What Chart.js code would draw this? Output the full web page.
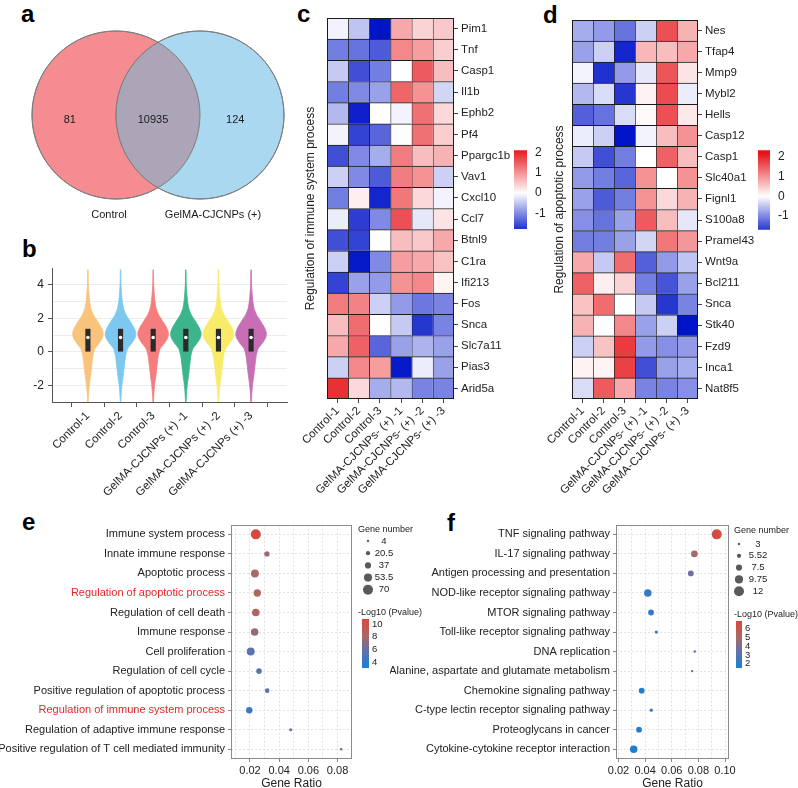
<!DOCTYPE html>
<html><head><meta charset="utf-8">
<script src="https://cdn.jsdelivr.net/npm/chart.js@4.4.1/dist/chart.umd.min.js"></script>
<style>
html,body{margin:0;padding:0;background:#fff;overflow:hidden;}
#wrap{position:relative;width:798px;height:788px;overflow:hidden;font-family:'Liberation Sans',Arial,Helvetica,sans-serif;}
canvas{position:absolute;}
.letter{position:absolute;font-weight:bold;font-size:24px;line-height:24px;color:#000;}
</style></head><body><div id="wrap"></div>
<script>
// ---------------- DATA ----------------
// a: Venn
const vennSets = ['Control', 'GelMA-CJCNPs (+)'];
const vennCounts = [81, 10935, 124]; // control only, shared, GelMA only

// b: violin
const violinSamples = ['Control-1','Control-2','Control-3','GelMA-CJCNPs (+) -1','GelMA-CJCNPs (+) -2','GelMA-CJCNPs (+) -3'];
const violinY =         [4.9, 4.0, 3.4, 3.0, 2.6, 2.2, 1.8, 1.4, 1.1, 0.8, 0.5, 0.2, -0.2, -0.8, -1.4, -1.9, -2.4, -3.0];
const violinHalfWidth = [0.006,0.015,0.035,0.055,0.09,0.17,0.30,0.42,0.47,0.44,0.34,0.22,0.16,0.12,0.085,0.05,0.025,0.006];
const boxLow =  [0, 0, 0, 0, 0, 0];
const boxHigh = [1.35, 1.35, 1.35, 1.35, 1.35, 1.35];
const medians = [0.85, 0.85, 0.85, 0.85, 0.85, 0.85];
const violinColors = ['#F8C47C','#7DC8F0','#F57D7D','#3CB48C','#F8EB68','#C86EB4'];

// c / d heatmaps
const heatSamples = ['Control-1','Control-2','Control-3','GelMA-CJCNPs- (+) -1','GelMA-CJCNPs- (+) -2','GelMA-CJCNPs- (+) -3'];
const genesC = ['Pim1','Tnf','Casp1','Il1b','Ephb2','Pf4','Ppargc1b','Vav1','Cxcl10','Ccl7','Btnl9','C1ra','Ifi213','Fos','Snca','Slc7a11','Pias3','Arid5a'];
const heatC = [
 [-0.1,-0.5,-2.0, 0.8, 0.4, 0.5],
 [-1.1,-1.2,-1.4, 1.1, 0.9, 0.45],
 [-0.45,-1.5,-1.1, 0.0, 1.5, 0.6],
 [-1.1,-1.0,-0.8, 1.4, 1.0,-0.35],
 [-0.6,-1.9, 0.0,-0.1, 1.3, 0.35],
 [-0.1,-1.6,-1.3, 0.03, 1.3, 0.45],
 [-1.5,-1.0,-0.7, 1.2, 0.6, 0.7],
 [-0.4,-1.0,-1.4, 1.2, 1.0,-0.4],
 [-1.1, 0.15,-1.85, 1.25, 0.35,-0.1],
 [-0.15,-1.65,-1.0, 1.6,-0.2, 0.25],
 [-1.5,-1.6, 0.0, 0.6, 0.5, 0.8],
 [-0.4,-1.95,-1.0, 0.9, 0.8, 0.55],
 [-1.6,-0.8,-0.85, 1.0, 1.1, 0.1],
 [1.2, 1.15,-0.4,-0.85,-1.15,-1.05],
 [0.6, 1.35, 0.0,-0.45,-1.7,-1.05],
 [0.8, 1.45,-1.3,-0.8,-0.65,-0.8],
 [-0.4, 1.1, 0.9,-1.95,-0.15,-0.8],
 [1.9, 0.35,-0.7,-0.6,-1.05,-1.05]
];
const genesD = ['Nes','Tfap4','Mmp9','Mybl2','Hells','Casp12','Casp1','Slc40a1','Fignl1','S100a8','Pramel43','Wnt9a','Bcl211','Snca','Stk40','Fzd9','Inca1','Nat8f5'];
const heatD = [
 [-0.7,-0.85,-1.2,-0.4, 1.6, 0.7],
 [-0.8,-0.4,-1.85, 0.65, 0.6, 0.8],
 [-0.1,-1.75,-0.85,-0.2, 1.55, 0.25],
 [-0.6,-0.3,-1.7, 0.12, 1.65,-0.15],
 [-1.35,-1.2,-0.3, 0.05, 1.6, 0.2],
 [-0.15,-0.4,-2.0,-0.1, 0.6, 1.0],
 [-0.45,-1.5,-1.1, 0.0, 1.45, 0.6],
 [-0.85,-1.1,-1.3, 1.0, 0.0, 1.0],
 [-0.8,-1.4,-1.1, 1.0, 0.35, 0.7],
 [-0.95,-1.2,-0.8, 1.5, 0.6,-0.2],
 [-1.1,-1.1,-0.8,-0.35, 1.25, 0.95],
 [0.8,-0.45, 1.35,-1.35,-0.85,-0.5],
 [1.45, 0.15, 0.4,-1.1,-1.45,-0.8],
 [0.55, 1.35, 0.0,-0.45,-1.7,-1.05],
 [0.7, 0.0, 1.1,-0.8,-0.4,-2.0],
 [-0.4, 0.55, 1.8,-0.85,-0.95,-0.85],
 [0.12, 0.1, 1.75,-1.5,-0.8,-0.7],
 [-0.3, 1.5, 0.8,-1.05,-1.05,-0.95]
];
const titleC = 'Regulation of immune system process';
const titleD = 'Regulation of apoptotic process';
const cbarRangeC = [-1.75, 2.1];
const cbarRangeD = [-1.7, 2.33];

// e: GO enrichment
const eTerms = ['Immune system process','Innate immune response','Apoptotic process','Regulation of apoptotic process','Regulation of cell death','Immune response','Cell proliferation','Regulation of cell cycle','Positive regulation of apoptotic process','Regulation of immune system process','Regulation of adaptive immune response','Positive regulation of T cell mediated immunity'];
const eRatio = [0.024, 0.0316, 0.0234, 0.025, 0.024, 0.0232, 0.0205, 0.0262, 0.0318, 0.0195, 0.0479, 0.0825];
const eCount = [70, 30, 52, 47, 49, 49, 52, 32, 23, 39, 10, 4];
const eLogP  = [10.6, 7.5, 8.0, 8.1, 8.2, 7.3, 5.6, 5.3, 5.5, 4.3, 6.0, 6.0];
const eHighlight = ['Regulation of apoptotic process','Regulation of immune system process'];
const eSizeLegend = [4, 20.5, 37, 53.5, 70];
const eSizeLabels = ['4','20.5','37','53.5','70'];
const eColorTicks = [10, 8, 6, 4];

// f: KEGG enrichment
const fTerms = ['TNF signaling pathway','IL-17 signaling pathway','Antigen processing and presentation','NOD-like receptor signaling pathway','MTOR signaling pathway','Toll-like receptor signaling pathway','DNA replication','Alanine, aspartate and glutamate metabolism','Chemokine signaling pathway','C-type lectin receptor signaling pathway','Proteoglycans in cancer','Cytokine-cytokine receptor interaction'];
const fRatio = [0.0938, 0.077, 0.0743, 0.042, 0.0444, 0.0484, 0.0773, 0.0753, 0.0374, 0.0446, 0.0354, 0.0314];
const fCount = [12, 8, 7, 9, 7, 4, 3, 3, 7, 4, 7, 9];
const fLogP  = [6.7, 4.8, 3.6, 2.2, 2.1, 2.2, 3.5, 3.5, 1.8, 2.4, 1.9, 1.7];
const fSizeLegend = [3, 5.25, 7.5, 9.75, 12];
const fSizeLabels = ['3','5.52','7.5','9.75','12'];
const fColorTicks = [6, 5, 4, 3, 2];

// ---------------- SETUP ----------------
const FONT = "'Liberation Sans', Arial, Helvetica, sans-serif";
Chart.defaults.font.family = FONT;
Chart.defaults.font.size = 12;
Chart.defaults.color = '#222';
Chart.defaults.animation = false;
Chart.defaults.events = [];
Chart.defaults.layout.autoPadding = false;
Chart.defaults.plugins.legend.display = false;
Chart.defaults.plugins.tooltip.enabled = false;

const wrap = document.getElementById('wrap');
function mk(l, t, w, h) {
  const c = document.createElement('canvas');
  c.width = w; c.height = h;
  Object.assign(c.style, {left: l + 'px', top: t + 'px', width: w + 'px', height: h + 'px'});
  wrap.appendChild(c); return c;
}
function mixArr(c1, c2, t) { t = Math.max(0, Math.min(1, t)); return c1.map((v, k) => Math.round(v + (c2[k] - v) * t)); }
function rgb(a) { return 'rgb(' + a.join(',') + ')'; }
function mix(c1, c2, t) { return rgb(mixArr(c1, c2, t)); }
const WHITE = [255,255,255], HEAT_RED = [230,15,20], HEAT_BLUE = [0,20,200];
function heatColor(v) { return v >= 0 ? mix(WHITE, HEAT_RED, v / 2.2) : mix(WHITE, HEAT_BLUE, -v / 2); }
// blue -> grey-purple -> brown -> red ramp for enrichment dots
const DOT_STOPS = [[0, [22,128,214]], [0.38, [105,112,165]], [0.64, [170,105,100]], [1, [216,72,62]]];
function dotRamp(t) {
  t = Math.max(0, Math.min(1, t));
  for (let k = 1; k < DOT_STOPS.length; k++) {
    const [t0, c0] = DOT_STOPS[k - 1], [t1, c1] = DOT_STOPS[k];
    if (t <= t1) return mix(c0, c1, (t - t0) / (t1 - t0));
  }
  return rgb(DOT_STOPS[DOT_STOPS.length - 1][1]);
}

function frame(color) {
  return { id: 'frame', afterDraw(chart) {
    const a = chart.chartArea, ctx = chart.ctx;
    ctx.save(); ctx.strokeStyle = color; ctx.lineWidth = 1;
    ctx.strokeRect(Math.round(a.left) + 0.5, Math.round(a.top) + 0.5, Math.round(a.right - a.left) - 1, Math.round(a.bottom - a.top) - 1);
    ctx.restore();
  }};
}

// letters
[['a',21,2],['b',22,237],['c',297,2],['d',543,3],['e',22,510],['f',447,511]].forEach(([s,l,t]) => {
  const d = document.createElement('div'); d.className = 'letter'; d.textContent = s;
  d.style.left = l + 'px'; d.style.top = t + 'px'; wrap.appendChild(d);
});

// ---------------- a: Venn ----------------
const vennOverlapColor = '#ACA5B7';
const vennPlugin = { id: 'venn', afterDatasetsDraw(chart) {
  const [a, b] = chart.getDatasetMeta(0).data;
  const ra = a.options.radius, rb = b.options.radius, ctx = chart.ctx;
  ctx.save(); ctx.beginPath(); ctx.arc(a.x, a.y, ra, 0, Math.PI * 2); ctx.clip();
  ctx.beginPath(); ctx.arc(b.x, b.y, rb, 0, Math.PI * 2); ctx.fillStyle = vennOverlapColor; ctx.fill(); ctx.restore();
  ctx.save(); ctx.strokeStyle = '#7d7d7d'; ctx.lineWidth = 1;
  [[a, ra], [b, rb]].forEach(([e, r]) => { ctx.beginPath(); ctx.arc(e.x, e.y, r, 0, Math.PI * 2); ctx.stroke(); });
  ctx.fillStyle = '#1a1a1a'; ctx.font = '11px ' + FONT; ctx.textAlign = 'center'; ctx.textBaseline = 'middle';
  ctx.fillText(String(vennCounts[0]), a.x - 0.55 * ra, a.y + 5);
  ctx.fillText(String(vennCounts[1]), (a.x + b.x) / 2 - 5, a.y + 5);
  ctx.fillText(String(vennCounts[2]), b.x + 0.42 * rb, a.y + 5);
  ctx.fillText(vennSets[0], a.x - 7, a.y + 100);
  ctx.fillText(vennSets[1], b.x + 13, a.y + 100);
  ctx.restore();
}};
new Chart(mk(0, 25, 300, 205), {
  type: 'bubble',
  data: { datasets: [{ data: vennSets.map((s, i) => ({x: i, y: 0, r: 84})), clip: false,
    backgroundColor: ['#F48C91', '#AAD8F1'], borderColor: '#7d7d7d', borderWidth: 1 }] },
  options: { responsive: false, layout: {padding: 0, autoPadding: false},
    scales: { x: {display: false, min: -116 / 84, max: (300 - 116) / 84}, y: {display: false, min: -(205 - 90) / 90, max: 1} } },
  plugins: [vennPlugin]
});

// ---------------- b: Violin ----------------
const violinSets = violinSamples.map((s, i) => ({
  type: 'scatter', label: s, order: 3,
  data: violinY.map((y, k) => ({x: i + violinHalfWidth[k], y}))
        .concat(violinY.map((y, k) => ({x: i - violinHalfWidth[k], y})).reverse()),
  showLine: true, fill: 'shape', backgroundColor: violinColors[i], borderColor: violinColors[i],
  borderWidth: 0.8, pointRadius: 0, tension: 0.2
}));
new Chart(mk(0, 255, 300, 250), {
  type: 'scatter',
  data: { datasets: [
    { type: 'scatter', order: 1, data: medians.map((m, i) => ({x: i, y: m})), pointRadius: 1.8, pointBackgroundColor: '#fff', pointBorderWidth: 0 },
    { type: 'bar', order: 2, data: violinSamples.map((s, i) => ({x: i, y: [boxLow[i], boxHigh[i]]})), backgroundColor: '#2a2a2a', barThickness: 4.5 },
    ...violinSets
  ]},
  options: { responsive: false, layout: {padding: {left: 0, right: 13, top: 13, bottom: 0}},
    scales: {
      x: { type: 'linear', min: -0.5, max: 5.5,
        afterBuildTicks: s => { s.ticks = violinSamples.map((_, i) => ({value: i})); },
        afterFit: s => { s.height = 103; },
        ticks: { callback: (v, i) => violinSamples[i], maxRotation: 45, minRotation: 45, autoSkip: false, font: {size: 11.5}, padding: 2 },
        grid: { drawOnChartArea: false, tickLength: 5, color: '#555' },
        border: { color: '#555' } },
      y: { min: -3, max: 5, afterFit: s => { s.width = 52; },
        ticks: { stepSize: 1, autoSkip: false, callback: v => (Math.round(v) % 2 === 0 ? String(v) : ''), font: {size: 12}, padding: 4 },
        grid: { color: c => (c.tick && c.tick.value > -3 && c.tick.value < 5) ? '#ececec' : 'rgba(0,0,0,0)',
                tickColor: c => (c.tick && Math.round(c.tick.value) % 2 === 0) ? '#555' : 'rgba(0,0,0,0)', tickLength: 4 },
        border: { color: '#555' } }
    } }
});

// ---------------- c / d: Heatmaps ----------------
function heatmap(canvas, genes, values, title, g) {
  const datasets = heatSamples.map((s, j) => ({
    label: s,
    data: genes.map(() => [j, j + 1]),
    backgroundColor: genes.map((gn, i) => heatColor(values[i][j])),
    borderColor: '#1b1b1b', borderWidth: {top: 1, left: 1, right: 0, bottom: 0}, borderSkipped: false,
    barPercentage: 1, categoryPercentage: 1, grouped: false
  }));
  new Chart(canvas, {
    type: 'bar', data: { labels: genes, datasets },
    options: { indexAxis: 'y', responsive: false,
      layout: { padding: {left: g.padL, top: g.padT, right: 0, bottom: 0} },
      scales: {
        x: { type: 'linear', min: 0, max: heatSamples.length, position: 'bottom',
          afterBuildTicks: s => { s.ticks = heatSamples.map((_, i) => ({value: i + 0.5})); },
          afterFit: s => { s.height = g.xH; },
          ticks: { callback: (v, i) => heatSamples[i], autoSkip: false, maxRotation: 45, minRotation: 45, font: {size: 11.5}, padding: 1 },
          grid: { drawOnChartArea: false, tickLength: 4, color: '#444' }, border: {display: false} },
        y: { type: 'category', position: 'right', offset: true,
          afterFit: s => { s.width = g.yW; },
          grid: { offset: false, drawOnChartArea: false, tickLength: 4, color: '#444' }, border: {display: false},
          ticks: { font: {size: 11.5}, padding: 3, autoSkip: false } },
        yt: { type: 'category', labels: genes, position: 'left', afterFit: s => { s.width = g.tW; },
          ticks: {display: false}, grid: {display: false, drawTicks: false}, border: {display: false},
          title: { display: true, text: title, font: {size: 12}, padding: 0, color: '#222' } }
      } },
    plugins: [frame('#1b1b1b')]
  });
}
heatmap(mk(295, 8, 225, 500), genesC, heatC, titleC, {padL: 8, tW: 24, padT: 10, xH: 109, yW: 66});
heatmap(mk(540, 8, 230, 500), genesD, heatD, titleD, {padL: 12, tW: 20, padT: 12, xH: 109, yW: 72});

function colorbar(canvas, range, g) {
  const [lo, hi] = range;
  new Chart(canvas, {
    type: 'bar',
    data: { labels: [''], datasets: [{ data: [[lo, hi]], borderWidth: 0, barPercentage: 1, categoryPercentage: 1,
      backgroundColor: c => {
        const ch = c.chart; if (!ch.chartArea) return '#fff';
        const y = ch.scales.y;
        const grd = ch.ctx.createLinearGradient(0, y.getPixelForValue(lo), 0, y.getPixelForValue(hi));
        for (let k = 0; k <= 24; k++) grd.addColorStop(k / 24, heatColor(lo + (hi - lo) * k / 24));
        return grd;
      } }] },
    options: { responsive: false, layout: { padding: {left: g.l, top: g.t, right: 0, bottom: g.b} },
      scales: { x: {display: false},
        y: { position: 'right', min: lo, max: hi, afterFit: s => { s.width = g.w; },
          ticks: { stepSize: 1, includeBounds: false, padding: 8, font: {size: 12} },
          grid: {display: false, drawTicks: false}, border: {display: false} } } }
  });
}
colorbar(mk(500, 135, 50, 110), cbarRangeC, {l: 14, t: 11, b: 16, w: 23});
colorbar(mk(745, 135, 53, 110), cbarRangeD, {l: 13, t: 11, b: 14, w: 28});

// ---------------- e / f: Dot plots ----------------
function dotPlot(canvas, terms, ratio, count, logp, cfg) {
  const rOf = n => cfg.rMin + (n - cfg.nMin) / (cfg.nMax - cfg.nMin) * (cfg.rMax - cfg.rMin);
  const colOf = p => dotRamp((p - cfg.pLo) / (cfg.pHi - cfg.pLo));
  const L = cfg.legend;
  const legendPlugin = { id: 'dotLegend', afterDraw(chart) {
    const ctx = chart.ctx, R = chart.chartArea.right;
    ctx.save(); ctx.textBaseline = 'middle';
    ctx.fillStyle = '#222'; ctx.font = '9px ' + FONT; ctx.textAlign = 'left';
    ctx.fillText('Gene number', R + L.titleDx, L.sizeTitleY);
    cfg.sizeLegend.forEach((n, k) => {
      const y = L.sizeY0 + k * L.sizeDy;
      ctx.fillStyle = '#5a5a5a'; ctx.beginPath(); ctx.arc(R + L.dotDx, y, rOf(n), 0, Math.PI * 2); ctx.fill();
      ctx.fillStyle = '#222'; ctx.textAlign = 'center'; ctx.font = '9.5px ' + FONT;
      ctx.fillText(cfg.sizeLabels[k], R + L.labDx, y);
    });
    ctx.textAlign = 'left'; ctx.font = '9px ' + FONT; ctx.fillStyle = '#222';
    ctx.fillText('-Log10 (Pvalue)', R + L.titleDx, L.colorTitleY);
    const grd = ctx.createLinearGradient(0, L.barBottom, 0, L.barTop);
    DOT_STOPS.forEach(([t, c]) => grd.addColorStop(t, rgb(c)));
    ctx.fillStyle = grd; ctx.fillRect(R + L.barDx, L.barTop, L.barW, L.barBottom - L.barTop);
    ctx.fillStyle = '#222'; ctx.font = '9.5px ' + FONT;
    cfg.colorTicks.forEach(v => {
      const y = L.barBottom - (v - cfg.pLo) / (cfg.pHi - cfg.pLo) * (L.barBottom - L.barTop);
      ctx.fillText(String(v), R + L.barDx + L.barW + 3, y);
    });
    ctx.restore();
  }};
  new Chart(canvas, {
    type: 'bubble',
    data: { datasets: [{ data: terms.map((t, i) => ({x: ratio[i], y: t, r: rOf(count[i])})),
      backgroundColor: logp.map(colOf), borderWidth: 0, clip: false }] },
    options: { responsive: false, layout: { padding: {left: 0, top: 7, right: cfg.padR, bottom: 0} },
      scales: {
        x: { type: 'linear', min: cfg.xMin, max: cfg.xMax, afterFit: s => { s.height = 36; },
          ticks: { stepSize: 0.01, includeBounds: false, autoSkip: false, maxRotation: 0, font: {size: 11}, padding: 2,
            callback: v => { const k = Math.round(v * 100); return k % 2 === 0 ? (k / 100).toFixed(2) : ''; } },
          grid: { color: '#e2e2e2', tickLength: 3,
            tickColor: c => (c.tick && Math.round(c.tick.value * 100) % 2 === 0) ? '#888' : 'rgba(0,0,0,0)' },
          border: { display: false, dash: [2, 2] },
          title: { display: true, text: 'Gene Ratio', font: {size: 12}, padding: {top: 2, bottom: 4}, color: '#222' } },
        y: { type: 'category', labels: terms, offset: true, afterFit: s => { s.width = cfg.yW; },
          ticks: { font: {size: 11}, padding: 3, autoSkip: false,
            color: c => cfg.highlight.includes(terms[c.index]) ? '#e8262a' : '#222' },
          grid: { offset: false, color: '#e2e2e2', tickColor: '#888', tickLength: 3 },
          border: { display: false, dash: [2, 2] } }
      } },
    plugins: [frame('#8c8c8c'), legendPlugin]
  });
}
dotPlot(mk(0, 515, 432, 280), eTerms, eRatio, eCount, eLogP, {
  xMin: 0.007, xMax: 0.0899, yW: 231, padR: 80,
  nMin: 4, nMax: 70, rMin: 1.2, rMax: 5, pLo: 3.05, pHi: 10.8,
  highlight: eHighlight, sizeLegend: eSizeLegend, sizeLabels: eSizeLabels, colorTicks: eColorTicks,
  legend: {titleDx: 6, sizeTitleY: 15, sizeY0: 26, sizeDy: 12.2, dotDx: 16, labDx: 32,
           colorTitleY: 98, barDx: 10, barW: 7, barTop: 104, barBottom: 153}
});
dotPlot(mk(390, 515, 408, 280), fTerms, fRatio, fCount, fLogP, {
  xMin: 0.0181, xMax: 0.103, yW: 226, padR: 69,
  nMin: 3, nMax: 12, rMin: 1.2, rMax: 5, pLo: 1.5, pHi: 6.9,
  highlight: [], sizeLegend: fSizeLegend, sizeLabels: fSizeLabels, colorTicks: fColorTicks,
  legend: {titleDx: 5, sizeTitleY: 16, sizeY0: 29, sizeDy: 11.8, dotDx: 10, labDx: 29,
           colorTitleY: 100, barDx: 7, barW: 6, barTop: 106, barBottom: 153}
});
</script></body></html>
